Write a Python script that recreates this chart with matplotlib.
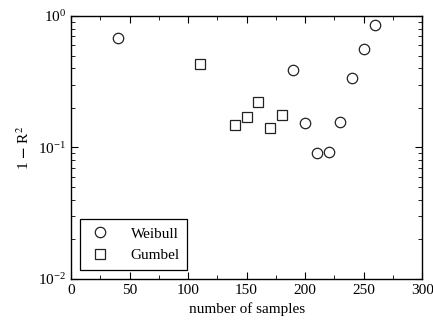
import matplotlib
matplotlib.use("Agg")
import matplotlib.pyplot as plt
from matplotlib.ticker import MultipleLocator

plt.rcParams['font.family'] = ['Liberation Serif', 'DejaVu Serif']
plt.rcParams['mathtext.fontset'] = 'stix'

# data
weibull_n = [40, 190, 200, 210, 220, 230, 240, 250, 260]
weibull_r = [0.68, 0.39, 0.153, 0.091, 0.092, 0.156, 0.34, 0.56, 0.85]
gumbel_n = [110, 140, 150, 160, 170, 180]
gumbel_r = [0.43, 0.148, 0.17, 0.22, 0.141, 0.177]

fig = plt.figure(figsize=(4.33, 3.27), dpi=100)
ax = fig.add_axes([0.164, 0.147, 0.811, 0.804])

ax.plot(weibull_n, weibull_r, 'o', mfc='white', mec='#222222', mew=0.9, ms=7.5, label='Weibull')
ax.plot(gumbel_n, gumbel_r, 's', mfc='white', mec='#222222', mew=0.9, ms=7, label='Gumbel')

ax.set_yscale('log')
ax.set_xlim(0, 300)
ax.set_ylim(1e-2, 1e0)
ax.xaxis.set_major_locator(MultipleLocator(50))
ax.xaxis.set_minor_locator(MultipleLocator(25))
ax.tick_params(which='both', direction='in', top=True, right=True, labelsize=11)
ax.tick_params(which='major', length=5)
ax.tick_params(which='minor', length=3)
for s in ax.spines.values():
    s.set_linewidth(1.0)

ax.set_xlabel('number of samples', fontsize=11)
ax.set_ylabel(r'1 $\mathbf{-}$ R$^2$', fontsize=11)

leg = ax.legend(loc='lower left', fancybox=False, edgecolor='black', framealpha=1,
                fontsize=11, handlelength=1.6, handletextpad=1.2, borderpad=0.5,
                labelspacing=0.5, borderaxespad=0.6)
leg.get_frame().set_linewidth(0.9)

fig.savefig('out.png', dpi=100)
